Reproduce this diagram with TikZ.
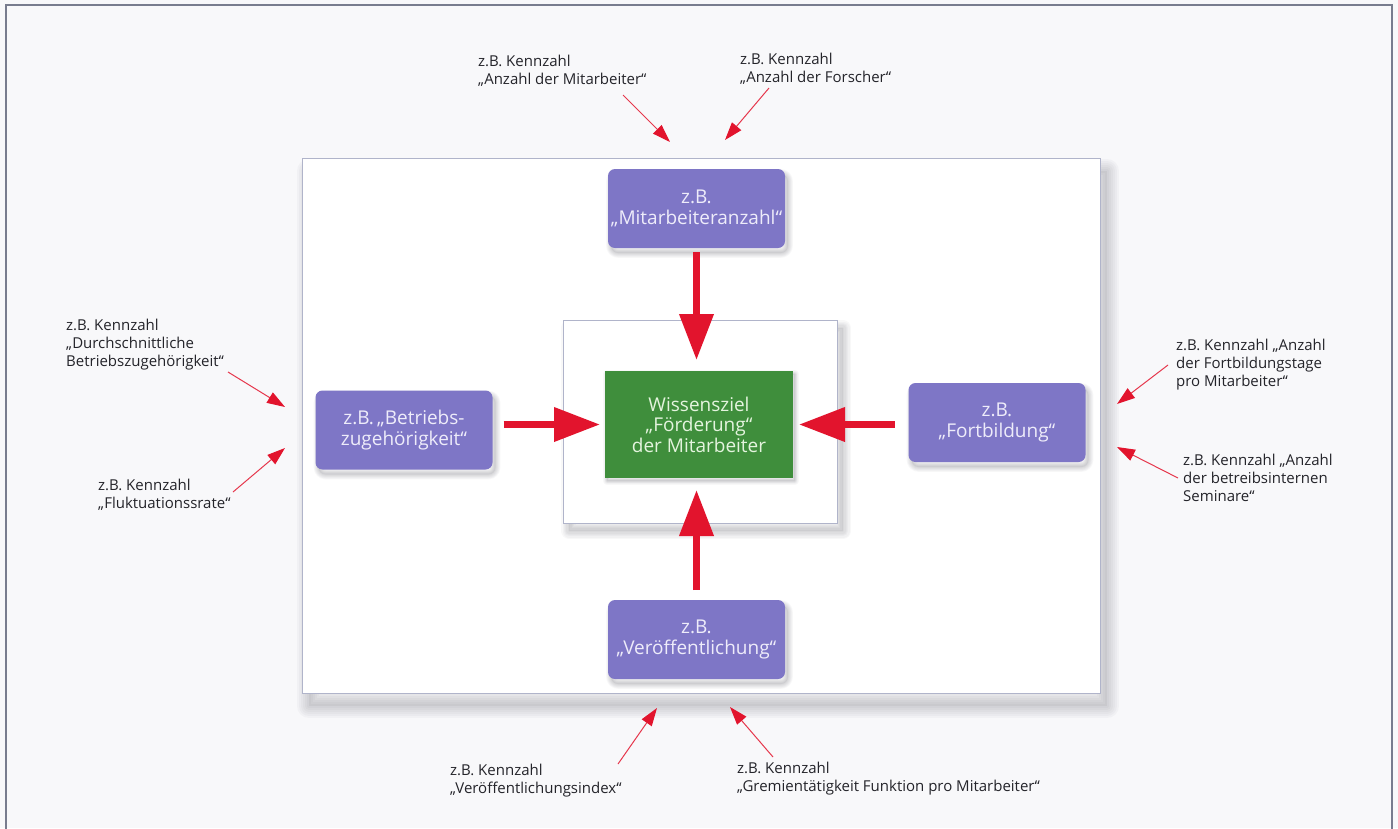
\documentclass[tikz,border=0pt]{standalone}
\usepackage{fontspec}
\setmainfont{Open Sans}
\usetikzlibrary{arrows.meta}
\definecolor{kpurple}{RGB}{126,118,198}
\definecolor{kpurpletext}{RGB}{238,236,250}
\definecolor{kgreen}{RGB}{63,142,60}
\definecolor{kgreentext}{RGB}{228,244,222}
\definecolor{kred}{RGB}{226,20,45}
\definecolor{kframe}{RGB}{120,124,142}
\definecolor{kborder}{RGB}{176,180,202}
\definecolor{kpaper}{RGB}{248,248,250}
\definecolor{kshadow}{RGB}{70,70,82}
\definecolor{klabel}{RGB}{36,36,42}
\tikzset{
  softshadow/.style n args={3}{
    preaction={fill=kshadow, opacity=.07, transform canvas={shift={(#1,#2)}}},
    preaction={draw=kshadow, opacity=.035, line join=round, line width=#3, transform canvas={shift={(#1,#2)}}},
    preaction={draw=kshadow, opacity=.035, line join=round, line width=2*#3, transform canvas={shift={(#1,#2)}}},
    preaction={draw=kshadow, opacity=.035, line join=round, line width=3*#3, transform canvas={shift={(#1,#2)}}},
    preaction={draw=kshadow, opacity=.035, line join=round, line width=4*#3, transform canvas={shift={(#1,#2)}}},
    preaction={draw=kshadow, opacity=.035, line join=round, line width=5*#3, transform canvas={shift={(#1,#2)}}},
    preaction={draw=kshadow, opacity=.035, line join=round, line width=6*#3, transform canvas={shift={(#1,#2)}}}},
  panel/.style={draw=kborder, line width=.8pt, fill=white, inner sep=0pt, outer sep=0pt},
  kennbox/.style={fill=kpurple, rounded corners=7pt, text=kpurpletext, align=center,
    minimum width=177pt, minimum height=79pt, inner sep=0pt, outer sep=0pt,
    font={\fontsize{19}{20.5}\selectfont}, softshadow={3}{5}{1.6pt}},
  zielbox/.style={fill=kgreen, text=kgreentext, align=center,
    minimum width=188pt, minimum height=107pt, inner sep=0pt, outer sep=0pt,
    font={\fontsize{19}{20.5}\selectfont}, softshadow={2}{3}{1.2pt}},
  kennzahl/.style={anchor=north west, align=left, inner sep=0pt, text=klabel,
    font={\fontsize{15}{18}\selectfont}},
  dickpfeil/.style={draw=kred, line width=7pt, -{Triangle[length=46pt,width=33pt]}},
  zeiger/.style={draw=kred!85, line width=1pt, -{Triangle[length=18pt,width=12pt,color=kred]}}
}
\begin{document}
\begin{tikzpicture}[x=1pt,y=-1pt]
  \useasboundingbox (0,0) rectangle (1398,828);
  \fill[kpaper] (0,0) rectangle (1398,828);
  \draw[kframe, line width=1.5pt] (6,832) -- (6,5) -- (1392,5) -- (1392,832);

  \node[panel, softshadow={7}{13}{4pt}, minimum width=798pt, minimum height=535pt] (aussen) at (701,425.5) {};
  \node[panel, softshadow={6}{8}{2.6pt}, minimum width=274pt, minimum height=203pt] (innen) at (700,421.5) {};
  \node[zielbox] (ziel) at (699,424.5) {Wissensziel\\„Förderung“\\der Mitarbeiter};

  \node[kennbox] (oben) at (696.5,208.5) {z.B.\\„Mitarbeiteranzahl“};
  \node[kennbox] (links) at (404,430) {z.B.\,„Betriebs-\\zugehörigkeit“};
  \node[kennbox] (rechts) at (997,422.5) {z.B.\\„Fortbildung“};
  \node[kennbox] (unten) at (696.5,639.5) {z.B.\\„Veröffentlichung“};

  \draw[dickpfeil, shorten <=4pt, shorten >=11pt] (oben.south) -- (oben.south |- ziel.north);
  \draw[dickpfeil, shorten <=11pt, shorten >=5pt] (links.east |- ziel.west) -- (ziel.west);
  \draw[dickpfeil, shorten <=14pt, shorten >=6pt] (rechts.west |- ziel.east) -- (ziel.east);
  \draw[dickpfeil, shorten <=10pt, shorten >=12pt] (unten.north) -- (unten.north |- ziel.south);

  \node[kennzahl] (kMitarb) at (478,55) {z.B. Kennzahl\\„Anzahl der Mitarbeiter“};
  \node[kennzahl] (kForsch) at (740,53) {z.B. Kennzahl\\„Anzahl der Forscher“};
  \node[kennzahl] (kDurch) at (66,319) {z.B. Kennzahl\\„Durchschnittliche\\Betriebszugehörigkeit“};
  \node[kennzahl] (kFlukt) at (98,479) {z.B. Kennzahl\\„Fluktuationssrate“};
  \node[kennzahl] (kFortb) at (1176,339) {z.B. Kennzahl „Anzahl\\der Fortbildungstage\\pro Mitarbeiter“};
  \node[kennzahl] (kSemin) at (1183,454) {z.B. Kennzahl „Anzahl\\der betreibsinternen\\Seminare“};
  \node[kennzahl] (kVeroef) at (450,764) {z.B. Kennzahl\\„Veröffentlichungsindex“};
  \node[kennzahl] (kGremium) at (737,762) {z.B. Kennzahl\\„Gremientätigkeit Funktion pro Mitarbeiter“};

  \coordinate (sMitarb) at (623,95);  \coordinate (tMitarb) at (670,142);
  \coordinate (sForsch) at (769,88);  \coordinate (tForsch) at (725,140);
  \coordinate (sDurch) at (228,372);  \coordinate (tDurch) at (285,407);
  \coordinate (sFlukt) at (233,492);  \coordinate (tFlukt) at (285,448);
  \coordinate (sFortb) at (1168,365); \coordinate (tFortb) at (1117,404);
  \coordinate (sSemin) at (1178,478); \coordinate (tSemin) at (1117,447);
  \coordinate (sVeroef) at (618,764); \coordinate (tVeroef) at (657,708);
  \coordinate (sGremium) at (773,757); \coordinate (tGremium) at (730,707);

  \foreach \k in {Mitarb,Forsch,Durch,Flukt,Fortb,Semin,Veroef,Gremium}
    \draw[zeiger] (s\k) -- (t\k);
\end{tikzpicture}
\end{document}
